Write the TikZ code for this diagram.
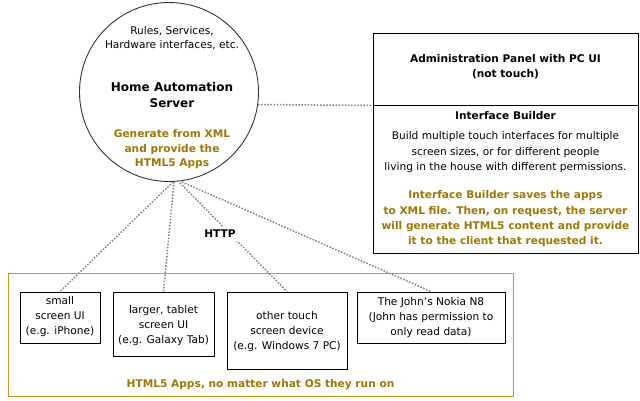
\documentclass[tikz,border=0pt]{standalone}
\usepackage{fontspec}
\usetikzlibrary{calc}
\setmainfont{DejaVu Sans}
\definecolor{goldtext}{RGB}{158,120,0}
\definecolor{goldline}{RGB}{200,155,30}
\definecolor{dotgray}{RGB}{130,130,130}
\begin{document}
\begin{tikzpicture}[x=1pt,y=-1pt,
  txt/.style={font=\fontsize{10.6}{15}\selectfont, align=center, inner sep=0pt},
  btxt/.style={font=\fontsize{10.6}{15}\selectfont\bfseries, align=center, inner sep=0pt},
  gtxt/.style={btxt, text=goldtext},
  box/.style={draw=black, line width=0.9pt, rectangle, inner sep=0pt},
  link/.style={draw=dotgray, line width=1.5pt, dash pattern=on 1.5pt off 1.6pt}]
\useasboundingbox[fill=white] (0,0) rectangle (640,400);

% server circle
\node[draw=black!80, line width=0.9pt, circle, minimum size=179pt, inner sep=0pt] (srv) at (169,92) {};
\node[txt, font=\fontsize{10.6}{14}\selectfont] (srvtop) at (172,38) {Rules, Services,\\Hardware interfaces, etc.};
\node[btxt, font=\fontsize{12}{16}\selectfont\bfseries] (srvname) at (172,95) {Home Automation\\Server};
\node[gtxt, font=\fontsize{10.6}{14.5}\selectfont\bfseries] (srvgen) at (172,149.5) {Generate from XML\\and provide the\\HTML5 Apps};

% admin panel
\node[box, minimum width=265pt, minimum height=72pt] (adm) at (505.5,69) {};
\node[btxt] (admtext) at (505.5,66.5) {Administration Panel with PC UI\\(not touch)};
\node[box, minimum width=265pt, minimum height=148pt] (ib) at (505.5,179) {};
\node[btxt] (ibtitle) at (505.5,116) {Interface Builder};
\node[txt, font=\fontsize{10.6}{15.5}\selectfont] (ibbody) at (505.5,152.5) {Build multiple touch interfaces for multiple\\screen sizes, or for different people\\living in the house with different permissions.};
\node[gtxt, font=\fontsize{10.6}{15.3}\selectfont\bfseries] (ibgold) at (505.5,219) {Interface Builder saves the apps\\to XML file. Then, on request, the server\\will generate HTML5 content and provide\\it to the client that requested it.};

% apps container
\node[draw=goldline, line width=0.9pt, rectangle, minimum width=505pt, minimum height=123pt, inner sep=0pt] (apps) at (260.5,334.5) {};
\node[gtxt] (appslabel) at (260.5,385) {HTML5 Apps, no matter what OS they run on};

% client boxes
\node[box, minimum width=80pt, minimum height=51pt] (b1) at (60,317.5) {};
\node[txt] (b1t) at (60,316.5) {small\\screen UI\\(e.g. iPhone)};
\node[box, minimum width=101pt, minimum height=64pt] (b2) at (163.5,324) {};
\node[txt] (b2t) at (163.5,325.5) {larger, tablet\\screen UI\\(e.g. Galaxy Tab)};
\node[box, minimum width=120pt, minimum height=77pt] (b3) at (287,330.5) {};
\node[txt] (b3t) at (287,331.5) {other touch\\screen device\\(e.g. Windows 7 PC)};
\node[box, minimum width=148pt, minimum height=51pt] (b4) at (431,317.5) {};
\node[txt] (b4t) at (431,318) {The John's Nokia N8\\(John has permission to\\only read data)};

% connectors
\coordinate (s1) at ($(srv.south)+(4,0)$);
\coordinate (s2) at ($(srv.south)+(5,0)$);
\coordinate (s3) at ($(srv.south)+(11,1)$);
\coordinate (s4) at ($(srv.south)+(13,0)$);
\draw[link] (srv.-8.35) -- (adm.south west);
\draw[link] (s1) -- (b1.north);
\draw[link] (s2) -- (b2.north);
\draw[link] (s3) -- (b3.north);
\draw[link] (s4) -- (b4.north);
\node[btxt, fill=white, inner sep=3pt] (http) at (220,234) {HTTP};
\end{tikzpicture}
\end{document}
